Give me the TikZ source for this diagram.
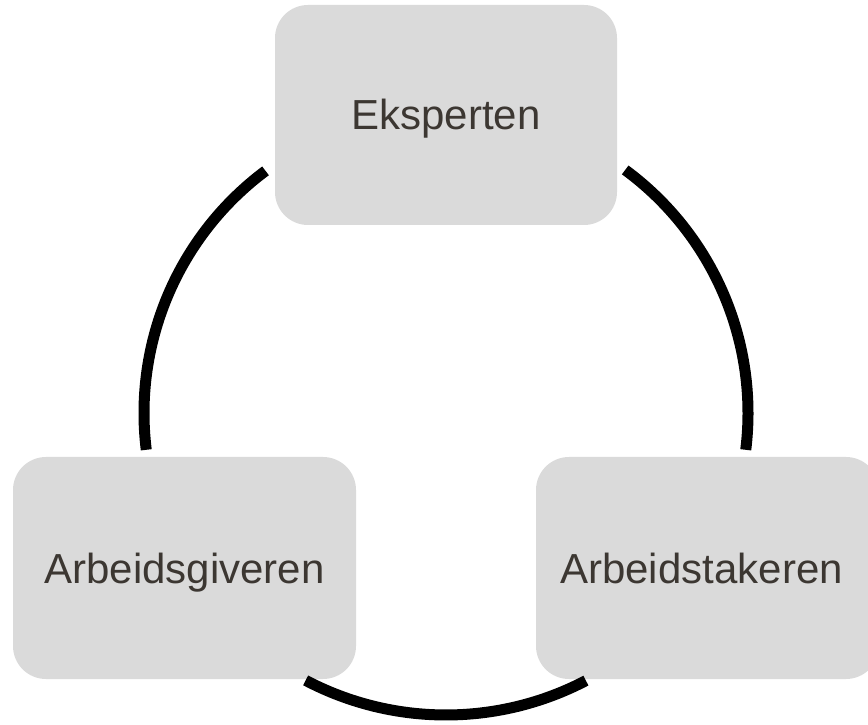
\documentclass[tikz,border=0pt]{standalone}
\usepackage{fontspec}
\setmainfont{Liberation Sans}
\definecolor{boxfill}{HTML}{DADADA}
\definecolor{boxtext}{HTML}{3C3732}
\begin{document}
\begin{tikzpicture}[x=1pt,y=1pt,
  labeltext/.style={text=boxtext, font=\fontsize{42}{50}\selectfont, inner sep=0pt,
    text height=30pt, text depth=0pt},
  roundbox/.style={labeltext, fill=boxfill, draw=none, rounded corners=33pt},
  ring/.style={line width=11pt, draw=black}]
\useasboundingbox (0,0) rectangle (868,724);
\node[roundbox, minimum width=342pt, minimum height=220pt] (top) at (446,609) {Eksperten};
\node[roundbox, minimum width=343pt, minimum height=222pt] (left) at (184.5,156) {Arbeidsgiveren};
\node[roundbox, minimum width=343pt, minimum height=222pt] (right) at (707.5,156) {};
\node[labeltext] (rightlabel) at (701.5,156) {Arbeidstakeren};
\coordinate (c) at (446,311);
\draw[ring] (c) ++(126.7:302) arc[start angle=126.7, end angle=187, radius=302];
\draw[ring] (c) ++(53.6:302) arc[start angle=53.6, end angle=-7, radius=302];
\draw[ring] (c) ++(242.3:302) arc[start angle=242.3, end angle=297.6, radius=302];
\end{tikzpicture}
\end{document}
